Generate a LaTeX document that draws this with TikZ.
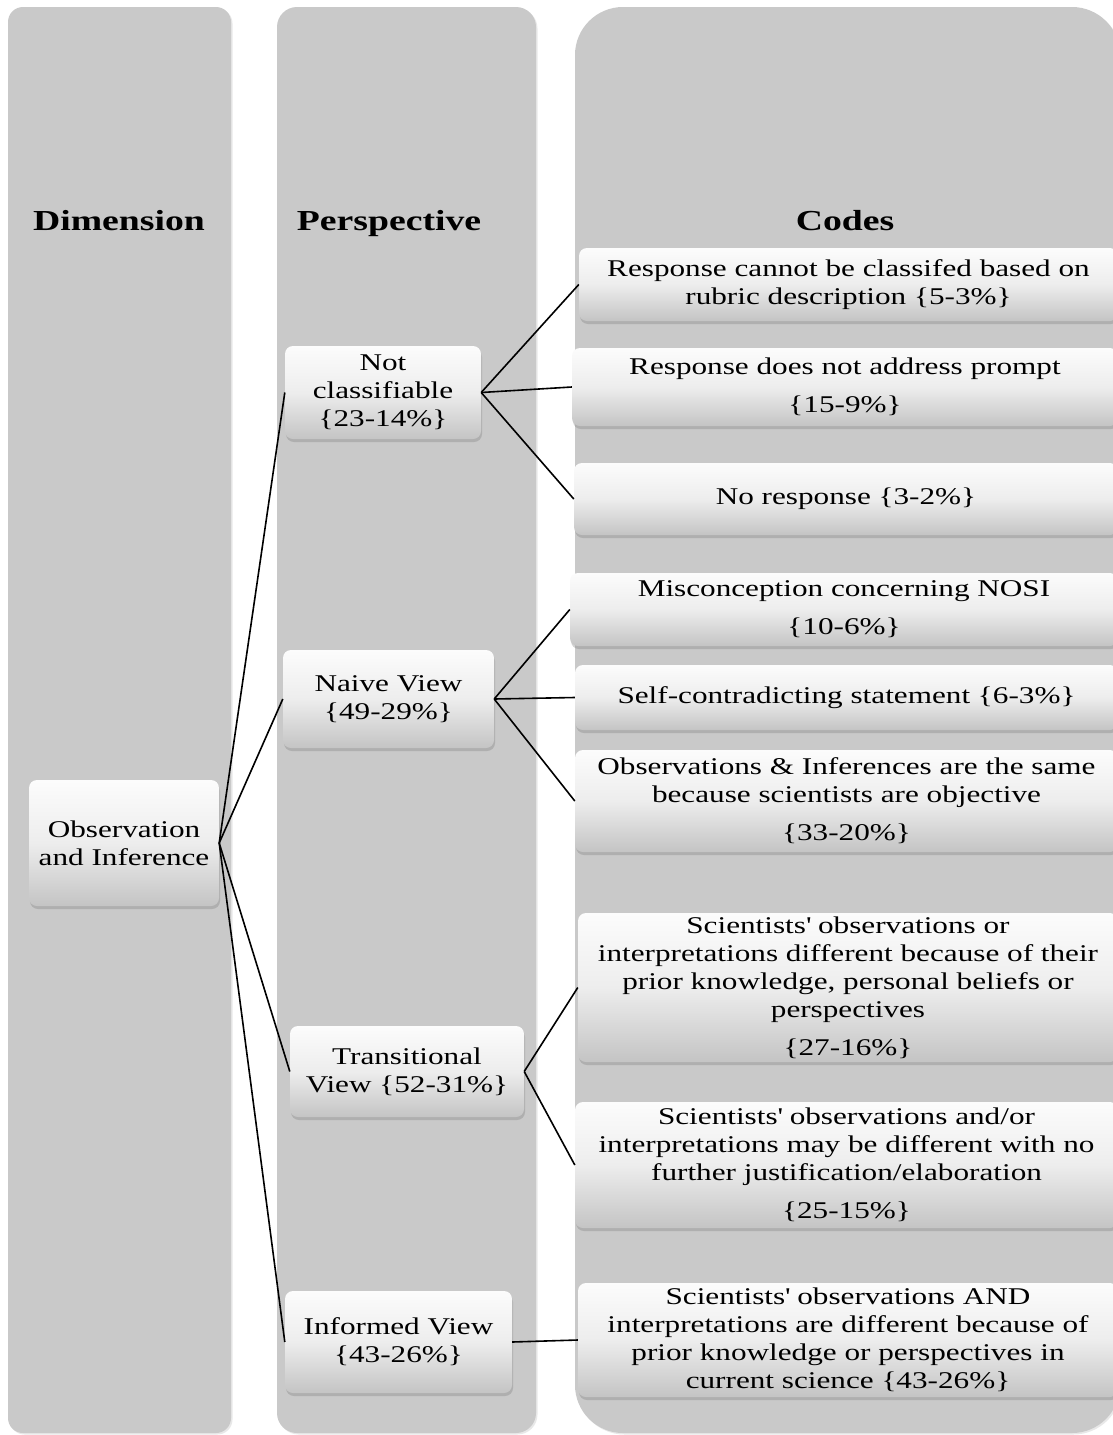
\documentclass[tikz,border=0pt]{standalone}
\usepackage{fontspec}
\setmainfont{Liberation Serif}[FakeStretch=1.3]
\usetikzlibrary{shadows}
\definecolor{lanegray}{HTML}{C9C9C9}
\definecolor{cardtop}{HTML}{FCFCFC}
\definecolor{cardmid}{HTML}{EDEDED}
\definecolor{cardbot}{HTML}{C4C4C4}
\newcommand{\apos}{\textquotesingle}
\begin{document}
\begin{tikzpicture}[x=1pt,y=-1pt,
  lane/.style={fill=lanegray,
    drop shadow={shadow xshift=1.5pt, shadow yshift=-1.5pt, opacity=0.18}},
  head/.style={font=\bfseries\fontsize{29}{34}\selectfont, anchor=base},
  card/.style={rounded corners=8pt, top color=cardtop, bottom color=cardbot,
    middle color=cardmid, align=center, inner sep=0pt,
    font=\fontsize{24}{28}\selectfont,
    drop shadow={shadow xshift=1pt, shadow yshift=-3pt, opacity=0.35}},
  link/.style={line width=1.6pt, black}]

% page frame
\useasboundingbox (0,0) rectangle (1113,1435);
\fill[white] (0,0) rectangle (1113,1435);
\clip (0,0) rectangle (1113,1435);

% three background lanes
\path[lane, rounded corners=15pt] (8,7) rectangle (231,1433);
\path[lane, rounded corners=20pt] (277,7) rectangle (536,1433);
\path[lane, rounded corners=48pt] (575,7) rectangle (1120,1433);

% lane headings
\node[head] (hdim)  at (119,230) {Dimension};
\node[head] (hper)  at (389,230) {Perspective};
\node[head] (hcode) at (845,230) {Codes};

% dimension
\node[card, minimum width=190pt, minimum height=126pt] (obs) at (124,843)
  {Observation\\and Inference};

% perspectives
\node[card, minimum width=196pt, minimum height=93pt] (nc) at (383,392.5)
  {Not\\classifiable\\\{23-14\%\}};
\node[card, minimum width=211pt, minimum height=98pt] (naive) at (388.5,699)
  {Naive View\\\{49-29\%\}};
\node[card, minimum width=234pt, minimum height=91pt] (trans) at (407,1071.5)
  {Transitional\\View \{52-31\%\}};
\node[card, minimum width=227pt, minimum height=102pt] (inf) at (398.5,1342)
  {Informed View\\\{43-26\%\}};

% codes
\node[card, minimum width=539pt, minimum height=73pt] (c1) at (848.5,284.5)
  {Response cannot be classifed based on\\rubric description \{5-3\%\}};
\node[card, minimum width=546pt, minimum height=78pt] (c2) at (845,387)
  {Response does not address prompt\\[10pt]\{15-9\%\}};
\node[card, minimum width=544pt, minimum height=72pt] (c3) at (846,499)
  {No response \{3-2\%\}};
\node[card, minimum width=548pt, minimum height=73pt] (c4) at (844,609.5)
  {Misconception concerning NOSI\\[10pt]\{10-6\%\}};
\node[card, minimum width=543pt, minimum height=65pt] (c5) at (846.5,697.5)
  {Self-contradicting statement \{6-3\%\}};
\node[card, minimum width=543pt, minimum height=102pt] (c6) at (846.5,801)
  {Observations \& Inferences are the same\\because scientists are objective\\[10pt]\{33-20\%\}};
\node[card, minimum width=540pt, minimum height=149pt] (c7) at (848,987.5)
  {Scientists\apos{} observations or\\interpretations different because of their\\prior knowledge, personal beliefs or\\perspectives\\[10pt]\{27-16\%\}};
\node[card, minimum width=543pt, minimum height=126pt] (c8) at (846.5,1165)
  {Scientists\apos{} observations and/or\\interpretations may be different with no\\further justification/elaboration\\[10pt]\{25-15\%\}};
\node[card, minimum width=540pt, minimum height=114pt] (c9) at (848,1340)
  {Scientists\apos{} observations AND\\interpretations are different because of\\prior knowledge or perspectives in\\current science \{43-26\%\}};

% connectors
\foreach \p in {nc,naive,trans,inf} \draw[link] (obs.east) -- (\p.west);
\foreach \c in {c1,c2,c3} \draw[link] (nc.east) -- (\c.west);
\foreach \c in {c4,c5,c6} \draw[link] (naive.east) -- (\c.west);
\foreach \c in {c7,c8} \draw[link] (trans.east) -- (\c.west);
\draw[link] (inf.east) -- (c9.west);
\end{tikzpicture}
\end{document}
